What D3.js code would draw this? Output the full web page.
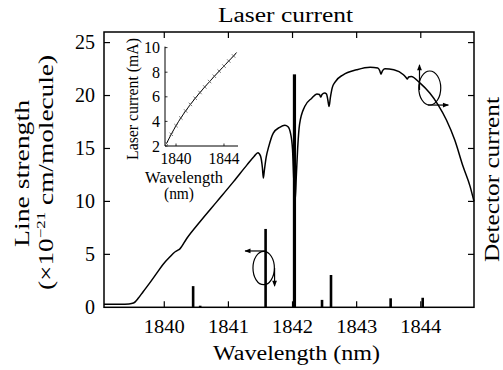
<!DOCTYPE html>
<html>
<head>
<meta charset="utf-8">
<script src="https://cdn.jsdelivr.net/npm/d3@7/dist/d3.min.js"></script>
<style>
  html, body { margin: 0; padding: 0; background: #fff; }
  svg { display: block; }
</style>
</head>
<body>
<svg id="chart" width="503" height="370" font-family="'Liberation Serif', 'DejaVu Serif', serif"></svg>
<script>
// Absorption spectrum (line strength, ×1e-21 cm/molecule) vs wavelength (nm)
const spectrumWl = [1839.06,1839.30,1839.45,1839.52,1839.60,1839.67,1839.78,1839.88,1839.98,1840.09,
  1840.16,1840.20,1840.24,1840.35,1840.56,1840.82,1841.08,1841.29,1841.40,1841.46,
  1841.50,1841.53,1841.545,1841.56,1841.59,1841.63,1841.70,1841.80,1841.88,1841.93,
  1841.97,1842.00,1842.02,1842.04,1842.06,1842.08,1842.11,1842.19,1842.30,1842.38,
  1842.42,1842.44,1842.46,1842.50,1842.53,1842.55,1842.57,1842.59,1842.62,1842.66,
  1842.79,1843.00,1843.21,1843.33,1843.36,1843.38,1843.40,1843.44,1843.58,1843.73,
  1843.77,1843.79,1843.81,1843.85,1843.99,1844.14,1844.27,1844.40,1844.53,1844.66,
  1844.77,1844.83];
const spectrumVal = [0.28,0.29,0.32,0.40,0.9,1.47,2.35,3.2,4.05,4.78,
  5.2,5.35,5.5,6.5,8.1,9.98,11.87,13.45,14.25,14.6,
  14.3,13.2,12.2,12.9,14.2,15.2,16.45,17.0,17.2,17.05,
  16.4,14.9,12.0,10.0,12.5,15.0,17.3,18.96,19.75,20.15,
  20.1,19.85,20.1,20.25,20.15,19.6,18.96,19.8,20.75,21.25,
  21.96,22.43,22.67,22.6,22.35,22.02,22.3,22.52,22.43,21.96,
  21.7,21.55,21.75,21.8,21.17,20.23,19.12,17.69,15.8,13.29,
  11.4,10.0];

// Stick spectrum: line positions and strengths
const lineWl = [1840.45, 1840.56, 1841.58, 1842.03, 1842.46, 1842.60, 1843.53, 1844.03];
const lineStrength = [2.0, 0.15, 7.4, 22.0, 0.7, 3.05, 0.85, 0.9];

// Tuning curve: laser current (mA) vs wavelength (nm)
const tuneWl = [1839.2,1839.6,1840.0,1840.4,1840.8,1841.2,1841.6,1842.0,1842.4,1842.8,
  1843.2,1843.6,1844.0,1844.4,1844.8,1845.05];
const tuneMA = [2.2,2.95,3.65,4.28,4.85,5.38,5.88,6.35,6.8,7.24,
  7.67,8.09,8.5,8.91,9.32,9.6];

const xTicks = [1840, 1841, 1842, 1843, 1844];
const yTicks = [0, 5, 10, 15, 20, 25];
const insetXTicks = [1840, 1844];
const insetYTicks = [2, 4, 6, 8, 10];

const svg = d3.select("#chart");
const M = { left: 104, right: 474, top: 32, bottom: 307.3 };

const x = d3.scaleLinear().domain([1839.06, 1844.83]).range([M.left, M.right]);
const y = d3.scaleLinear().domain([0, 26]).range([M.bottom, M.top]);

// arrowhead marker
svg.append("defs").append("marker")
  .attr("id", "arrow").attr("markerUnits", "userSpaceOnUse")
  .attr("viewBox", "0 0 10 10").attr("refX", 9).attr("refY", 5)
  .attr("markerWidth", 8).attr("markerHeight", 6).attr("orient", "auto")
  .append("path").attr("d", "M0,1 L10,5 L0,9 Z").attr("fill", "#000");

// spectrum curve
const line = d3.line().x(d => x(d[0])).y(d => y(d[1])).curve(d3.curveMonotoneX);
svg.append("path")
  .datum(d3.zip(spectrumWl, spectrumVal))
  .attr("d", line).attr("fill", "none").attr("stroke", "#000").attr("stroke-width", 1.5);

// stick lines
svg.selectAll("rect.stick").data(d3.zip(lineWl, lineStrength)).join("rect")
  .attr("class", "stick")
  .attr("x", d => x(d[0]) - (d[1] > 20 ? 1.6 : 1.3))
  .attr("width", d => d[1] > 20 ? 3.2 : 2.6)
  .attr("y", d => y(d[1]))
  .attr("height", d => y(0) - y(d[1]))
  .attr("fill", "#000");

// frame
svg.append("rect")
  .attr("x", M.left).attr("y", M.top)
  .attr("width", M.right - M.left).attr("height", M.bottom - M.top)
  .attr("fill", "none").attr("stroke", "#000").attr("stroke-width", 1.5);

// inward ticks on all four sides
const tk = 6;
const tickG = svg.append("g").attr("stroke", "#000").attr("stroke-width", 1.2);
xTicks.forEach(t => {
  tickG.append("line").attr("x1", x(t)).attr("x2", x(t)).attr("y1", M.bottom).attr("y2", M.bottom - tk);
  tickG.append("line").attr("x1", x(t)).attr("x2", x(t)).attr("y1", M.top).attr("y2", M.top + tk);
});
yTicks.filter(t => t > 0).forEach(t => {
  tickG.append("line").attr("x1", M.left).attr("x2", M.left + tk).attr("y1", y(t)).attr("y2", y(t));
  tickG.append("line").attr("x1", M.right).attr("x2", M.right - tk).attr("y1", y(t)).attr("y2", y(t));
});

// tick labels
svg.selectAll("text.xt").data(xTicks).join("text").attr("class", "xt")
  .attr("x", d => x(d)).attr("y", 333).attr("text-anchor", "middle")
  .attr("font-size", 18.5).attr("textLength", 41).attr("lengthAdjust", "spacingAndGlyphs")
  .text(d => d);
svg.selectAll("text.yt").data(yTicks).join("text").attr("class", "yt")
  .attr("x", 95).attr("y", d => y(d) + 6.5).attr("text-anchor", "end")
  .attr("font-size", 20)
  .text(d => d);

// axis titles
svg.append("text").attr("x", 296.5).attr("y", 359.5).attr("text-anchor", "middle")
  .attr("font-size", 20).attr("textLength", 167).attr("lengthAdjust", "spacingAndGlyphs")
  .text("Wavelength (nm)");
svg.append("text").attr("x", 285.5).attr("y", 21.5).attr("text-anchor", "middle")
  .attr("font-size", 20).attr("textLength", 135).attr("lengthAdjust", "spacingAndGlyphs")
  .text("Laser current");
svg.append("text").attr("transform", "translate(29,173.5) rotate(-90)")
  .attr("text-anchor", "middle").attr("font-size", 22)
  .attr("textLength", 147).attr("lengthAdjust", "spacingAndGlyphs")
  .text("Line strength");
const yl2 = svg.append("text").attr("transform", "translate(53,172.5) rotate(-90)")
  .attr("text-anchor", "middle").attr("font-size", 21)
  .attr("textLength", 235).attr("lengthAdjust", "spacingAndGlyphs");
yl2.append("tspan").text("(\u00d710");
yl2.append("tspan").attr("dy", -8).attr("font-size", 13).text("\u221221");
yl2.append("tspan").attr("dy", 8).text(" cm/molecule)");
svg.append("text").attr("transform", "translate(499,179.5) rotate(-90)")
  .attr("text-anchor", "middle").attr("font-size", 21)
  .attr("textLength", 165).attr("lengthAdjust", "spacingAndGlyphs")
  .text("Detector current");

// annotations: ellipses with arrows pointing to their axes
const ann = svg.append("g").attr("fill", "none").attr("stroke", "#000").attr("stroke-width", 1.2);
ann.append("ellipse").attr("cx", x(1841.55)).attr("cy", y(3.71)).attr("rx", 10.7).attr("ry", 16.7);
ann.append("line").attr("x1", x(1841.58)).attr("y1", y(5.32)).attr("x2", x(1841.26)).attr("y2", y(5.32))
  .attr("marker-end", "url(#arrow)");
ann.append("line").attr("x1", x(1841.72)).attr("y1", y(3.71)).attr("x2", x(1841.72)).attr("y2", y(2.0))
  .attr("marker-end", "url(#arrow)");
ann.append("ellipse").attr("cx", x(1844.14)).attr("cy", y(20.71)).attr("rx", 11).attr("ry", 17);
ann.append("line").attr("x1", x(1843.98)).attr("y1", y(20.52)).attr("x2", x(1843.98)).attr("y2", y(22.9))
  .attr("marker-end", "url(#arrow)");
ann.append("line").attr("x1", x(1844.11)).attr("y1", y(19.1)).attr("x2", x(1844.43)).attr("y2", y(19.1))
  .attr("marker-end", "url(#arrow)");

// inset: tuning curve
const ix = d3.scaleLinear().domain([1839.08, 1845.17]).range([165, 238]);
const iy = d3.scaleLinear().domain([2, 10]).range([146, 47.6]);
const inset = svg.append("g");
inset.append("path").attr("d", `M${ix.range()[0]},${iy(10) - 1}V${iy(2)}H${ix.range()[1]}`)
  .attr("fill", "none").attr("stroke", "#000").attr("stroke-width", 1);
insetYTicks.forEach(t => {
  inset.append("line").attr("x1", ix.range()[0]).attr("x2", ix.range()[0] + 2.5)
    .attr("y1", iy(t)).attr("y2", iy(t)).attr("stroke", "#000").attr("stroke-width", 0.8);
});
insetXTicks.forEach(t => {
  inset.append("line").attr("x1", ix(t)).attr("x2", ix(t))
    .attr("y1", iy(2)).attr("y2", iy(2) - 2.5).attr("stroke", "#000").attr("stroke-width", 0.8);
});
const iline = d3.line().x(d => ix(d[0])).y(d => iy(d[1])).curve(d3.curveMonotoneX);
const tunePts = d3.zip(tuneWl, tuneMA);
inset.append("path").datum(tunePts).attr("d", iline)
  .attr("fill", "none").attr("stroke", "#000").attr("stroke-width", 1);
// cross markers on the sampled points
const cs = 1.7;
inset.selectAll("path.cross").data(tunePts.slice(0, -1)).join("path").attr("class", "cross")
  .attr("d", d => {
    const px = ix(d[0]), py = iy(d[1]);
    return `M${px - cs},${py - cs}L${px + cs},${py + cs}M${px - cs},${py + cs}L${px + cs},${py - cs}`;
  })
  .attr("stroke", "#555").attr("stroke-width", 0.8);

inset.selectAll("text.iyt").data(insetYTicks).join("text").attr("class", "iyt")
  .attr("x", 160).attr("y", d => iy(d) + 5.5).attr("text-anchor", "end")
  .attr("font-size", 16).text(d => d);
inset.selectAll("text.ixt").data(insetXTicks).join("text").attr("class", "ixt")
  .attr("x", d => ix(d)).attr("y", 163.5).attr("text-anchor", "middle")
  .attr("font-size", 16).attr("textLength", 31).attr("lengthAdjust", "spacingAndGlyphs")
  .text(d => d);
inset.append("text").attr("x", 184).attr("y", 183).attr("text-anchor", "middle")
  .attr("font-size", 16).attr("textLength", 78).attr("lengthAdjust", "spacingAndGlyphs")
  .text("Wavelength");
inset.append("text").attr("x", 179).attr("y", 198.5).attr("text-anchor", "middle")
  .attr("font-size", 16).attr("textLength", 30).attr("lengthAdjust", "spacingAndGlyphs")
  .text("(nm)");
inset.append("text").attr("transform", "translate(138,99) rotate(-90)")
  .attr("text-anchor", "middle").attr("font-size", 16)
  .attr("textLength", 122).attr("lengthAdjust", "spacingAndGlyphs")
  .text("Laser current (mA)");
</script>
</body>
</html>
